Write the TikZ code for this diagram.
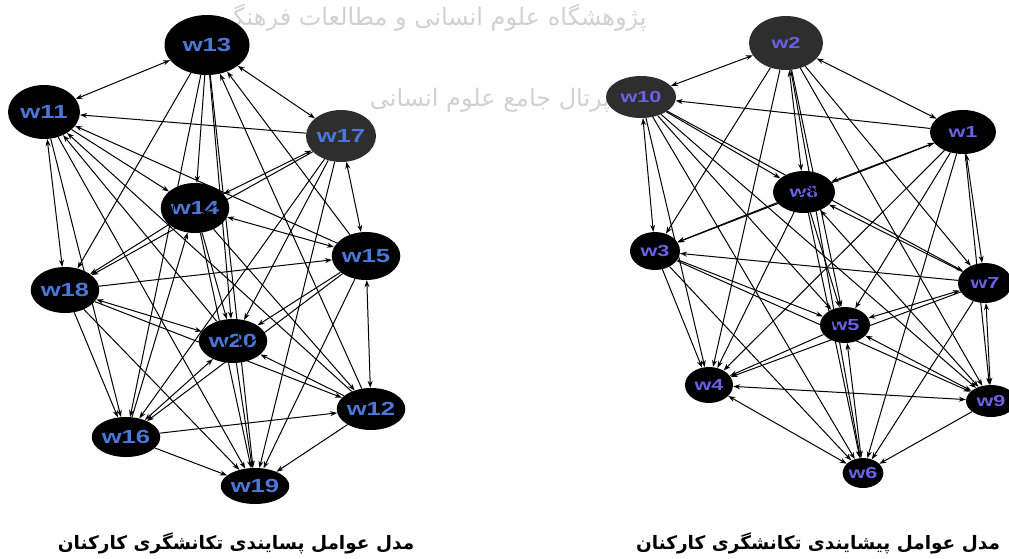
\documentclass[tikz,border=0pt]{standalone}
\usepackage{fontspec}
\usetikzlibrary{shapes.geometric, arrows.meta}
\newfontfamily\wfont[FakeStretch=1.35]{Liberation Sans}
\newfontfamily\arabicfont[Script=Arabic]{DejaVu Sans}
\TeXXeTstate=1
\definecolor{wblue}{HTML}{4A78D8}
\definecolor{wpurple}{HTML}{6A62E6}
\definecolor{wdark}{HTML}{2E2E2E}

\begin{document}
\begin{tikzpicture}[
            x = 1pt, y = -1pt,
            > = {Stealth[length=7pt,width=5pt]},
    wl/.style = {ellipse, fill=black, inner sep=0pt, text=wblue,
                 font=\wfont\bfseries\fontsize{19}{19}\selectfont},
    wr/.style = {ellipse, fill=black, inner sep=0pt, text=wpurple,
                 font=\wfont\bfseries\fontsize{16}{16}\selectfont},
   lnk/.style = {line width=1pt, ->},
  blnk/.style = {line width=1pt, <->},
 wmark/.style = {text=black!18, font=\arabicfont\fontsize{24}{24}\selectfont},
caption/.style = {font=\arabicfont\bfseries\fontsize{18.5}{18.5}\selectfont}
                        ]
\useasboundingbox (0,0) rectangle (1009,558);
% watermark
\node[wmark] (wmtop) at (430,18) {\beginR پژوهشگاه علوم انسانی و مطالعات فرهنگی\endR};
\node[wmark] (wmmid) at (490,100) {\beginR پرتال جامع علوم انسانی\endR};
% left model
\node[wl, minimum width=85pt, minimum height=60pt] (w13) at (207,45) {w13};
\node[wl, minimum width=72pt, minimum height=54pt] (w11) at (44,112) {w11};
\node[wl, fill=wdark, minimum width=70pt, minimum height=52pt] (w17) at (341,136) {w17};
\node[wl, minimum width=68pt, minimum height=50pt] (w14) at (195,208) {w14};
\node[wl, minimum width=66pt, minimum height=48pt] (w15) at (366,256) {w15};
\node[wl, minimum width=64pt, minimum height=46pt] (w18) at (65,290) {w18};
\node[wl, minimum width=60pt, minimum height=44pt] (w20) at (233,341) {w20};
\node[wl, minimum width=56pt, minimum height=42pt] (w12) at (371,409) {w12};
\node[wl, minimum width=54pt, minimum height=40pt] (w16) at (126,437) {w16};
\node[wl, minimum width=52pt, minimum height=36pt] (w19) at (255,486) {w19};
% right model
\node[wr, fill=wdark, minimum width=74pt, minimum height=54pt] (w2) at (786,43) {w2};
\node[wr, fill=wdark, minimum width=70pt, minimum height=42pt] (w10) at (641,97) {w10};
\node[wr, minimum width=66pt, minimum height=44pt] (w1) at (963,132) {w1};
\node[wr, minimum width=62pt, minimum height=42pt] (w8) at (804,192) {w8};
\node[wr, minimum width=50pt, minimum height=38pt] (w3) at (655,251) {w3};
\node[wr, minimum width=54pt, minimum height=40pt] (w7) at (985,283) {w7};
\node[wr, minimum width=50pt, minimum height=36pt] (w5) at (845,325) {w5};
\node[wr, minimum width=48pt, minimum height=36pt] (w4) at (709,385) {w4};
\node[wr, minimum width=50pt, minimum height=32pt] (w9) at (991,401) {w9};
\node[wr, minimum width=40pt, minimum height=30pt] (w6) at (863,473) {w6};
% links of the left model
\draw[blnk] (w11) edge (w13) edge (w18)  (w13) edge (w17)  (w17) edge (w15) edge (w14)
            (w14) edge (w15)  (w15) edge (w12)  (w18) edge (w20)  (w20) edge (w16);
\draw[lnk] (w11) edge (w14) edge (w16) edge (w19);
\draw[lnk] (w13) edge (w18) edge (w14) edge (w16) edge (w20) edge (w19);
\draw[lnk] (w17) edge (w11) edge (w18) edge (w16) edge (w20) edge (w19);
\draw[lnk] (w14) edge (w18) edge (w20) edge (w19) edge (w12);
\draw[lnk] (w15) edge (w11) edge (w13) edge (w20) edge (w16) edge (w19);
\draw[lnk] (w18) edge (w15) edge (w16) edge (w19) edge (w12);
\draw[lnk] (w20) edge (w11) edge (w19);
\draw[lnk] (w12) edge (w11) edge (w13) edge (w20) edge (w19);
\draw[lnk] (w16) edge (w12) edge (w19) edge (w14);
% links of the right model
\draw[blnk] (w2) edge (w10) edge (w1) edge (w8)  (w10) edge (w3)  (w1) edge (w8) edge (w7)
            (w8) edge (w9)  (w7) edge (w5) edge (w9)  (w5) edge (w9) edge (w6)
            (w4) edge (w9) edge (w6);
\draw[lnk] (w2) edge (w3) edge (w5) edge (w4) edge (w6) edge (w7) edge (w9);
\draw[lnk] (w10) edge (w8) edge (w5) edge (w4) edge (w6) edge (w7) edge (w9);
\draw[lnk] (w1) edge (w10) edge (w3) edge (w5) edge (w4) edge (w6) edge (w9);
\draw[lnk] (w8) edge (w3) edge (w5) edge (w6) edge (w4);
\draw[lnk] (w3) edge (w4) edge (w5) edge (w6) edge (w9);
\draw[lnk] (w7) edge (w3) edge (w4) edge (w6) edge (w8);
\draw[lnk] (w5) edge (w4);
\draw[lnk] (w9) edge (w6);
% captions
\node[caption] (capl) at (236,543) {\beginR مدل عوامل پسایندی تکانشگری کارکنان\endR};
\node[caption] (capr) at (818,543) {\beginR مدل عوامل پیشایندی تکانشگری کارکنان\endR};
\end{tikzpicture}
\end{document}
